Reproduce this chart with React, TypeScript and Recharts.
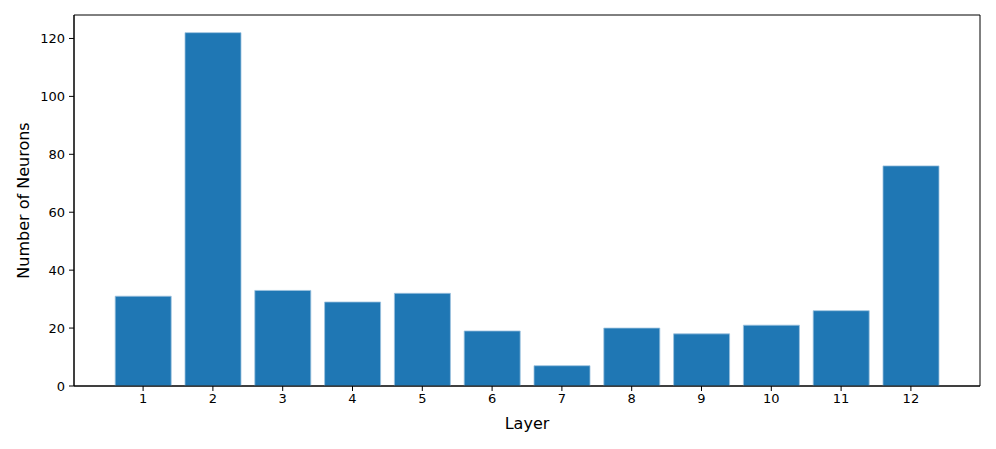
import * as React from 'react'
import { Bar, BarChart, ReferenceArea, XAxis, YAxis } from 'recharts'

// Neurons per layer
const layers = [1, 2, 3, 4, 5, 6, 7, 8, 9, 10, 11, 12]
const neuronCounts = [31, 122, 33, 29, 32, 19, 7, 20, 18, 21, 26, 76]
const yTicks = [0, 20, 40, 60, 80, 100, 120]

const X_DOMAIN: [number, number] = [0.01, 12.99]
const Y_DOMAIN: [number, number] = [0, 128.1]
const FONT = '"DejaVu Sans", sans-serif'
const BAR_COLOR = '#1f77b4'

const data = layers.map((layer, i) => ({ layer, count: neuronCounts[i] }))

const TICK_STYLE = { fontSize: 13, fill: '#000', fontFamily: FONT }

export default function App() {
  return (
    <div style={{ position: 'absolute', left: 0, top: 0, width: 996, height: 449, background: '#fff' }}>
      <BarChart
        width={996}
        height={449}
        data={data}
        margin={{ top: 15, right: 16, bottom: 0, left: 0 }}
      >
        <XAxis
          dataKey="layer"
          type="number"
          domain={X_DOMAIN}
          ticks={layers}
          allowDataOverflow
          height={63}
          tick={TICK_STYLE}
          tickSize={5}
          tickMargin={3}
          axisLine={{ stroke: '#000', strokeWidth: 1 }}
          tickLine={{ stroke: '#000' }}
          label={{ value: 'Layer', position: 'insideBottom', offset: 20, fontSize: 16, fill: '#000', fontFamily: FONT }}
        />
        <YAxis
          type="number"
          domain={Y_DOMAIN}
          ticks={yTicks}
          allowDataOverflow
          width={74}
          tick={TICK_STYLE}
          tickSize={5}
          tickMargin={4}
          axisLine={{ stroke: '#000', strokeWidth: 1 }}
          tickLine={{ stroke: '#000' }}
          label={{
            value: 'Number of Neurons',
            angle: -90,
            position: 'insideLeft',
            offset: 23,
            style: { textAnchor: 'middle', fontSize: 16, fill: '#000', fontFamily: FONT },
          }}
        />
        <Bar
          dataKey="count"
          fill={BAR_COLOR}
          barSize={56}
          stroke="#9cc2de"
          strokeWidth={0.8}
          isAnimationActive={false}
        />
        {/* matplotlib-style frame around the plot area */}
        <ReferenceArea
          x1={X_DOMAIN[0]}
          x2={X_DOMAIN[1]}
          y1={Y_DOMAIN[0]}
          y2={Y_DOMAIN[1]}
          fill="none"
          fillOpacity={0}
          stroke="#000"
          strokeWidth={1}
          strokeOpacity={1}
        />
      </BarChart>
    </div>
  )
}
